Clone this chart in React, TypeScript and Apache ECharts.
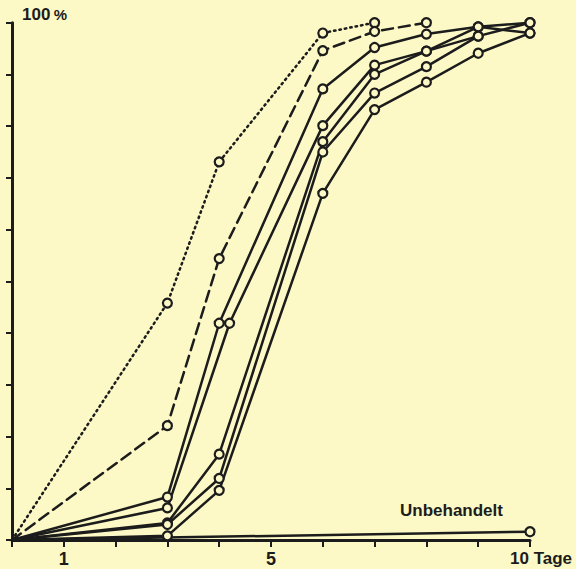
import React, { useEffect, useRef } from 'react';
import * as echarts from 'echarts';

// x: days, y: percent
const dottedDays = [0, 3, 4, 6, 7];
const dottedPct = [0, 45.8, 73.1, 98.0, 100];
const dashedDays = [0, 3, 4, 6, 7, 8];
const dashedPct = [0, 22.1, 54.4, 94.6, 98.3, 100];
const solid1Days = [0, 3, 4, 6, 7, 8, 9, 10];
const solid1Pct = [0, 8.3, 41.9, 87.2, 95.2, 97.8, 99.2, 100];
const solid2Days = [0, 3, 4.2, 6, 7, 8, 9, 10];
const solid2Pct = [0, 6.2, 41.9, 80.1, 91.8, 94.5, 97.4, 100];
const solid3Days = [0, 3, 4, 6, 7, 8, 9, 10];
const solid3Pct = [0, 3.3, 16.6, 77.0, 90.0, 94.5, 99.2, 98.0];
const solid4Days = [0, 3, 4, 6, 7, 8, 9];
const solid4Pct = [0, 3.0, 11.9, 75.0, 86.4, 91.5, 97.4];
const solid5Days = [0, 3, 4, 6, 7, 8, 9, 10];
const solid5Pct = [0, 0.8, 9.6, 67.0, 83.2, 88.5, 94.1, 98.0];
const untreatedDays = [0, 10];
const untreatedPct = [0, 1.6];

const xTickLabels: Record<number, string> = { 1: '1', 5: '5' };
const lastXLabel = '10 Tage';
const yTopLabel = '100';
const untreatedLabel = 'Unbehandelt';

const BG = '#fcf9c6';
const INK = '#1c1c1c';
const FONT = 'Liberation Sans, Arial, sans-serif';

function pairs(xs: number[], ys: number[]) {
  return xs.map((x, i) => ({
    value: [x, ys[i]],
    symbol: x === 0 ? 'none' : 'circle',
  }));
}

export default function App() {
  const ref = useRef<HTMLDivElement>(null);
  useEffect(() => {
    if (!ref.current) return;
    const chart = echarts.init(ref.current, undefined, { renderer: 'svg' });
    const base = (name: string, xs: number[], ys: number[], type: any) => ({
      name,
      type: 'line',
      data: pairs(xs, ys),
      symbol: 'circle',
      symbolSize: 9,
      showAllSymbol: true,
      lineStyle: { color: INK, width: 2.5, type, cap: 'round' },
      itemStyle: { color: BG, borderColor: INK, borderWidth: 2.2 },
      z: 3,
    });
    const untreated = {
      name: untreatedLabel,
      type: 'line',
      data: untreatedDays.map((x, i) => ({
        value: [x, untreatedPct[i]],
        symbol: x === 10 ? 'circle' : 'none',
      })),
      symbolSize: 9,
      lineStyle: { color: INK, width: 2.5 },
      itemStyle: { color: BG, borderColor: INK, borderWidth: 2.2 },
      z: 3,
    };
    chart.setOption({
      animation: false,
      backgroundColor: BG,
      grid: { left: 12, right: 46, top: 22.7, bottom: 29, outerBoundsMode: 'none', containLabel: false },
      xAxis: {
        type: 'value',
        min: 0,
        max: 10,
        interval: 1,
        axisLine: { show: true, lineStyle: { color: INK, width: 3 } },
        axisTick: { show: true, length: 7, lineStyle: { color: INK, width: 2 } },
        splitLine: { show: false },
        axisLabel: {
          show: true,
          margin: 10,
          color: INK,
          fontSize: 18,
          fontWeight: 'bold',
          fontFamily: FONT,
          formatter: (v: number) => xTickLabels[v] ?? '',
        },
      },
      yAxis: {
        type: 'value',
        min: 0,
        max: 100,
        interval: 10,
        axisLine: { show: true, lineStyle: { color: INK, width: 3 } },
        axisTick: { show: true, length: 6, lineStyle: { color: INK, width: 2 } },
        splitLine: { show: false },
        axisLabel: { show: false },
      },
      graphic: [
        {
          type: 'text',
          left: 22,
          top: 6,
          style: {
            text: '{a|' + yTopLabel + '} {b|%}',
            rich: {
              a: { fontSize: 17, fontWeight: 'bold', fill: INK, fontFamily: FONT },
              b: { fontSize: 15, fontWeight: 'bold', fill: INK, fontFamily: FONT },
            },
          },
        },
        {
          type: 'text',
          left: 510,
          top: 550,
          style: {
            text: lastXLabel,
            fontSize: 17,
            fontWeight: 'bold',
            fill: INK,
            fontFamily: FONT,
          },
        },
        {
          type: 'text',
          left: 400,
          top: 502,
          style: {
            text: untreatedLabel,
            fontSize: 17,
            fontWeight: 'bold',
            fill: INK,
            fontFamily: FONT,
          },
        },
      ],
      series: [
        base('dotted', dottedDays, dottedPct, [1.5, 4]),
        base('dashed', dashedDays, dashedPct, [11, 6]),
        base('s1', solid1Days, solid1Pct, 'solid'),
        base('s2', solid2Days, solid2Pct, 'solid'),
        base('s3', solid3Days, solid3Pct, 'solid'),
        base('s4', solid4Days, solid4Pct, 'solid'),
        base('s5', solid5Days, solid5Pct, 'solid'),
        untreated,
      ],
    });
    return () => chart.dispose();
  }, []);
  return (
    <div
      ref={ref}
      style={{ position: 'fixed', left: 0, top: 0, width: 576, height: 569, background: BG }}
    />
  );
}
